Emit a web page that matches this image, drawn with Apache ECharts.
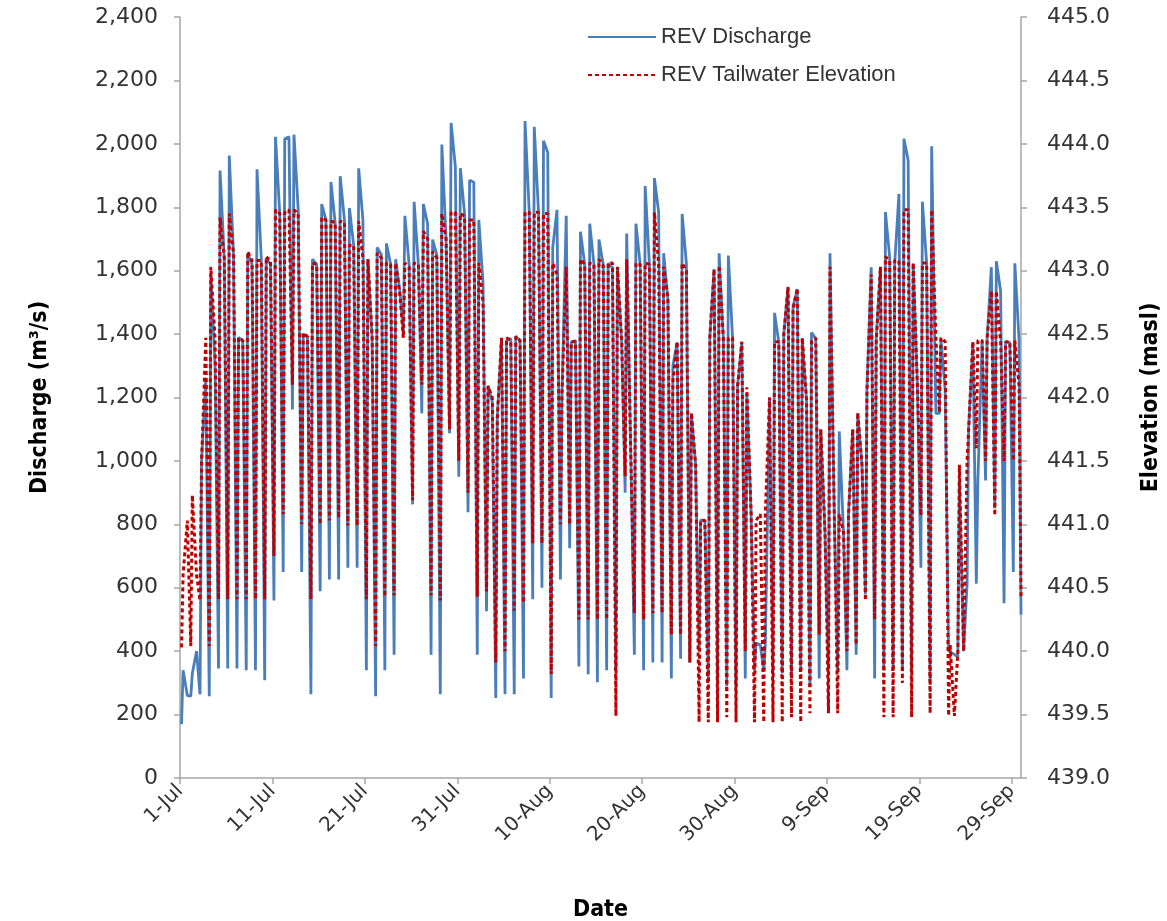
<!DOCTYPE html>
<html>
<head>
<meta charset="utf-8">
<script src="https://cdn.jsdelivr.net/npm/echarts@6/dist/echarts.min.js"></script>
<style>
  html, body { margin: 0; background: #fff; }
  #chart { width: 1167px; height: 921px; }
</style>
</head>
<body>
<div id="chart"></div>
<script>
// tick labels of the date axis (every 10 days from 1-Jul)
const dateTicks = ['1-Jul', '11-Jul', '21-Jul', '31-Jul', '10-Aug', '20-Aug', '30-Aug', '9-Sep', '19-Sep', '29-Sep']

// hour of day of the three readings kept for each day
const sampleHours = [4, 8, 19]

// REV discharge (m3/s): night low, daytime high, evening level, one row per 10 days
const qLow = [170, 258, 264, 258, 345, 345, 345, 340, 340, 308,
  560, 650, 1162, 650, 264, 589, 626, 626, 663, 663,
  340, 258, 340, 389, 1400, 863, 1150, 389, 264, 1087,
  950, 838, 389, 526, 252, 264, 264, 314, 564, 600,
  252, 626, 725, 352, 327, 302, 340, 340, 900, 389,
  340, 364, 364, 314, 376, 364, 400, 308, 302, 289,
  289, 314, 340, 340, 330, 330, 314, 340, 289, 314,
  340, 340, 340, 389, 580, 314, 340, 340, 340, 340,
  663, 302, 1150, 401, 380, 613, 613, 938, 850, 551,
  650]
const qHigh = [340, 330, 1000, 1590, 1916, 1963, 1390, 1655, 1920, 1640,
  2022, 2016, 2029, 1400, 1636, 1810, 1880, 1898, 1798, 1923,
  1636, 1673, 1686, 1636, 1773, 1817, 1810, 1698, 1998, 2066,
  1923, 1885, 1760, 1237, 1137, 1380, 1393, 2072, 2054, 2010,
  1673, 1212, 1374, 1723, 1748, 1698, 1623, 1611, 1717, 1748,
  1867, 1892, 1655, 1300, 1779, 1150, 813, 1393, 1655, 1648,
  1237, 1212, 426, 420, 1467, 1400, 1486, 1386, 1405, 1100,
  1655, 1093, 826, 1150, 1224, 1386, 1785, 1623, 2016, 1623,
  1817, 1992, 1386, 400, 938, 1100, 938, 1386, 1630, 1374,
  1623]
const qEve = [260, 400, 1262, 1300, 1640, 1650, 1380, 1620, 1640, 1620,
  1780, 2022, 1790, 1390, 1620, 1760, 1750, 1760, 1680, 1760,
  1386, 1650, 1620, 1536, 1620, 1620, 1748, 1650, 1698, 1929,
  1780, 1879, 1560, 1187, 1386, 1386, 1380, 1785, 1785, 1973,
  1792, 1773, 1380, 1620, 1620, 1620, 1610, 1374, 1000, 1620,
  1620, 1785, 1511, 1374, 1623, 988, 813, 1605, 1386, 1386,
  1374, 838, 420, 1200, 1374, 1549, 1542, 1193, 1386, 776,
  838, 776, 1100, 988, 1611, 1611, 1642, 1842, 1948, 1237,
  1623, 1150, 1224, 390, 400, 1374, 1380, 1611, 1536, 1374,
  1380]
const qLast = 515

// REV tailwater elevation (masl), same layout
const eLow = [440.03, 440.04, 440.40, 440.04, 440.41, 440.41, 440.41, 440.41, 440.41, 440.41,
  440.75, 441.08, 442.10, 441.00, 440.41, 441.00, 441.03, 441.05, 440.99, 440.99,
  440.41, 440.04, 440.43, 440.44, 442.47, 441.19, 442.10, 440.44, 440.40, 441.75,
  441.50, 441.25, 440.43, 440.47, 439.91, 440.00, 440.32, 440.38, 440.85, 440.85,
  439.82, 441.00, 441.00, 440.25, 440.25, 440.25, 440.25, 439.49, 441.38, 440.30,
  440.25, 440.30, 440.30, 440.13, 440.13, 439.91, 439.44, 439.44, 439.44, 439.48,
  439.44, 440.00, 439.44, 439.44, 439.44, 439.44, 439.48, 439.44, 439.51, 440.13,
  439.51, 439.51, 440.00, 440.05, 440.40, 440.25, 439.48, 439.48, 439.75, 439.48,
  441.07, 439.51, 441.88, 439.49, 440.00, 441.50, 441.60, 441.50, 441.07, 441.50,
  441.50]
const eHigh = [440.60, 441.23, 441.50, 443.03, 443.42, 443.45, 442.47, 443.15, 443.08, 443.11,
  443.48, 443.46, 443.48, 442.51, 443.06, 443.42, 443.39, 443.39, 443.20, 443.39,
  443.09, 443.14, 443.06, 443.06, 443.06, 443.06, 443.31, 443.15, 443.45, 443.46,
  443.45, 443.40, 443.06, 442.09, 441.84, 442.47, 442.48, 443.46, 443.46, 443.45,
  443.06, 442.03, 442.44, 443.09, 443.06, 443.09, 443.06, 443.03, 443.09, 443.06,
  443.06, 443.46, 443.03, 442.13, 443.06, 441.88, 441.03, 442.48, 443.04, 442.47,
  442.09, 442.08, 441.03, 441.08, 442.44, 442.50, 442.70, 442.47, 442.44, 441.75,
  443.03, 441.08, 441.07, 441.88, 442.06, 442.44, 443.11, 443.08, 443.48, 443.06,
  443.06, 443.48, 442.47, 440.05, 441.47, 441.75, 442.45, 442.47, 442.84, 442.44,
  442.45]
const eEve = [441.03, 440.60, 442.47, 442.47, 443.10, 443.13, 442.45, 443.08, 443.08, 443.08,
  443.45, 443.48, 443.45, 442.48, 443.05, 443.40, 443.38, 443.38, 443.20, 443.10,
  442.47, 443.10, 443.05, 442.81, 443.03, 443.05, 443.25, 443.10, 443.25, 443.46,
  443.43, 443.40, 442.75, 442.00, 442.47, 442.45, 442.45, 443.46, 443.46, 443.45,
  442.97, 443.03, 442.44, 443.05, 443.05, 443.04, 443.06, 442.44, 441.50, 443.05,
  443.05, 443.05, 442.78, 442.44, 443.00, 441.47, 441.03, 443.01, 442.47, 442.47,
  442.44, 441.10, 441.08, 442.00, 442.44, 442.87, 442.86, 441.98, 442.47, 440.94,
  441.10, 440.94, 441.75, 441.47, 442.97, 443.03, 443.08, 443.08, 443.48, 442.09,
  443.06, 442.47, 442.44, 439.49, 440.00, 442.44, 442.45, 442.84, 442.44, 442.44,
  442.09]
const eLast = 440.43

// day number -> [time, value] pairs
const buildSeries = (low, high, eve, last) => {
  let out = []
  for (let d = 0; d < low.length; d++) {
    out.push([d + sampleHours[0] / 24, low[d]])
    out.push([d + sampleHours[1] / 24, high[d]])
    out.push([d + sampleHours[2] / 24, eve[d]])
  }
  out.push([low.length, last])
  return out
}
const dischargeData = buildSeries(qLow, qHigh, qEve, qLast)
const elevationData = buildSeries(eLow, eHigh, eEve, eLast)

const axisGrey = '#a6a6a6'
const labelFont = "'DejaVu Sans', sans-serif"
const titleFont = "'Liberation Sans Narrow', 'DejaVu Sans Condensed', 'Liberation Sans', sans-serif"

let chart = echarts.init(document.getElementById('chart'), null, {renderer: 'canvas'})

let option = {
  animation: false,
  backgroundColor: '#fff',
  grid: {left: 180, right: 146, top: 17, bottom: 143, containLabel: false, outerBoundsMode: 'none'},
  legend: {
    orient: 'vertical',
    left: 582,
    top: 21,
    itemWidth: 68,
    itemHeight: 14,
    itemGap: 16,
    itemStyle: {opacity: 0},
    textStyle: {fontSize: 22, color: '#333', fontFamily: "'Liberation Sans', sans-serif"},
    data: ['REV Discharge', 'REV Tailwater Elevation']
  },
  xAxis: {
    type: 'value',
    min: 0,
    max: qLow.length,
    interval: 10,
    name: 'Date',
    nameLocation: 'middle',
    nameGap: 121,
    nameTextStyle: {fontSize: 23, fontWeight: 'bold', color: '#000', fontFamily: titleFont},
    axisLine: {lineStyle: {color: axisGrey, width: 1.5}},
    axisTick: {length: 6, lineStyle: {color: axisGrey, width: 1.5}},
    splitLine: {show: false},
    axisLabel: {
      rotate: 45,
      margin: 10,
      fontSize: 20,
      color: '#333',
      fontFamily: labelFont,
      showMaxLabel: false,
      formatter: v => (v % 10 === 0 ? dateTicks[v / 10] : '')
    }
  },
  yAxis: [
    {
      type: 'value',
      position: 'left',
      min: 0,
      max: 2400,
      interval: 200,
      name: 'Discharge (m³/s)',
      nameLocation: 'middle',
      nameGap: 128,
      nameTextStyle: {fontSize: 23, fontWeight: 'bold', color: '#000', fontFamily: titleFont},
      axisLine: {show: true, lineStyle: {color: axisGrey, width: 1.5}},
      axisTick: {show: true, length: 6, lineStyle: {color: axisGrey, width: 1.5}},
      splitLine: {show: false},
      axisLabel: {
        margin: 22,
        fontSize: 22,
        color: '#333',
        fontFamily: labelFont,
        formatter: v => v.toString().replace(/\B(?=(\d{3})+(?!\d))/g, ',')
      }
    },
    {
      type: 'value',
      position: 'right',
      min: 439,
      max: 445,
      interval: 0.5,
      name: 'Elevation (masl)',
      nameLocation: 'middle',
      nameGap: 119,
      nameRotate: 90,
      nameTextStyle: {fontSize: 23, fontWeight: 'bold', color: '#000', fontFamily: titleFont},
      axisLine: {show: true, lineStyle: {color: axisGrey, width: 1.5}},
      axisTick: {show: true, length: 6, lineStyle: {color: axisGrey, width: 1.5}},
      splitLine: {show: false},
      axisLabel: {
        margin: 26,
        fontSize: 22,
        color: '#333',
        fontFamily: labelFont,
        formatter: v => v.toFixed(1)
      }
    }
  ],
  series: [
    {
      name: 'REV Discharge',
      type: 'line',
      yAxisIndex: 0,
      data: dischargeData,
      symbol: 'none',
      lineStyle: {color: '#4A7EBB', width: 2.8},
      itemStyle: {color: '#4A7EBB'},
      z: 2
    },
    {
      name: 'REV Tailwater Elevation',
      type: 'line',
      yAxisIndex: 1,
      data: elevationData,
      symbol: 'none',
      lineStyle: {color: '#C00000', width: 3, type: [4, 3]},
      itemStyle: {color: '#C00000'},
      z: 3
    }
  ]
}

chart.setOption(option)
</script>
</body>
</html>
